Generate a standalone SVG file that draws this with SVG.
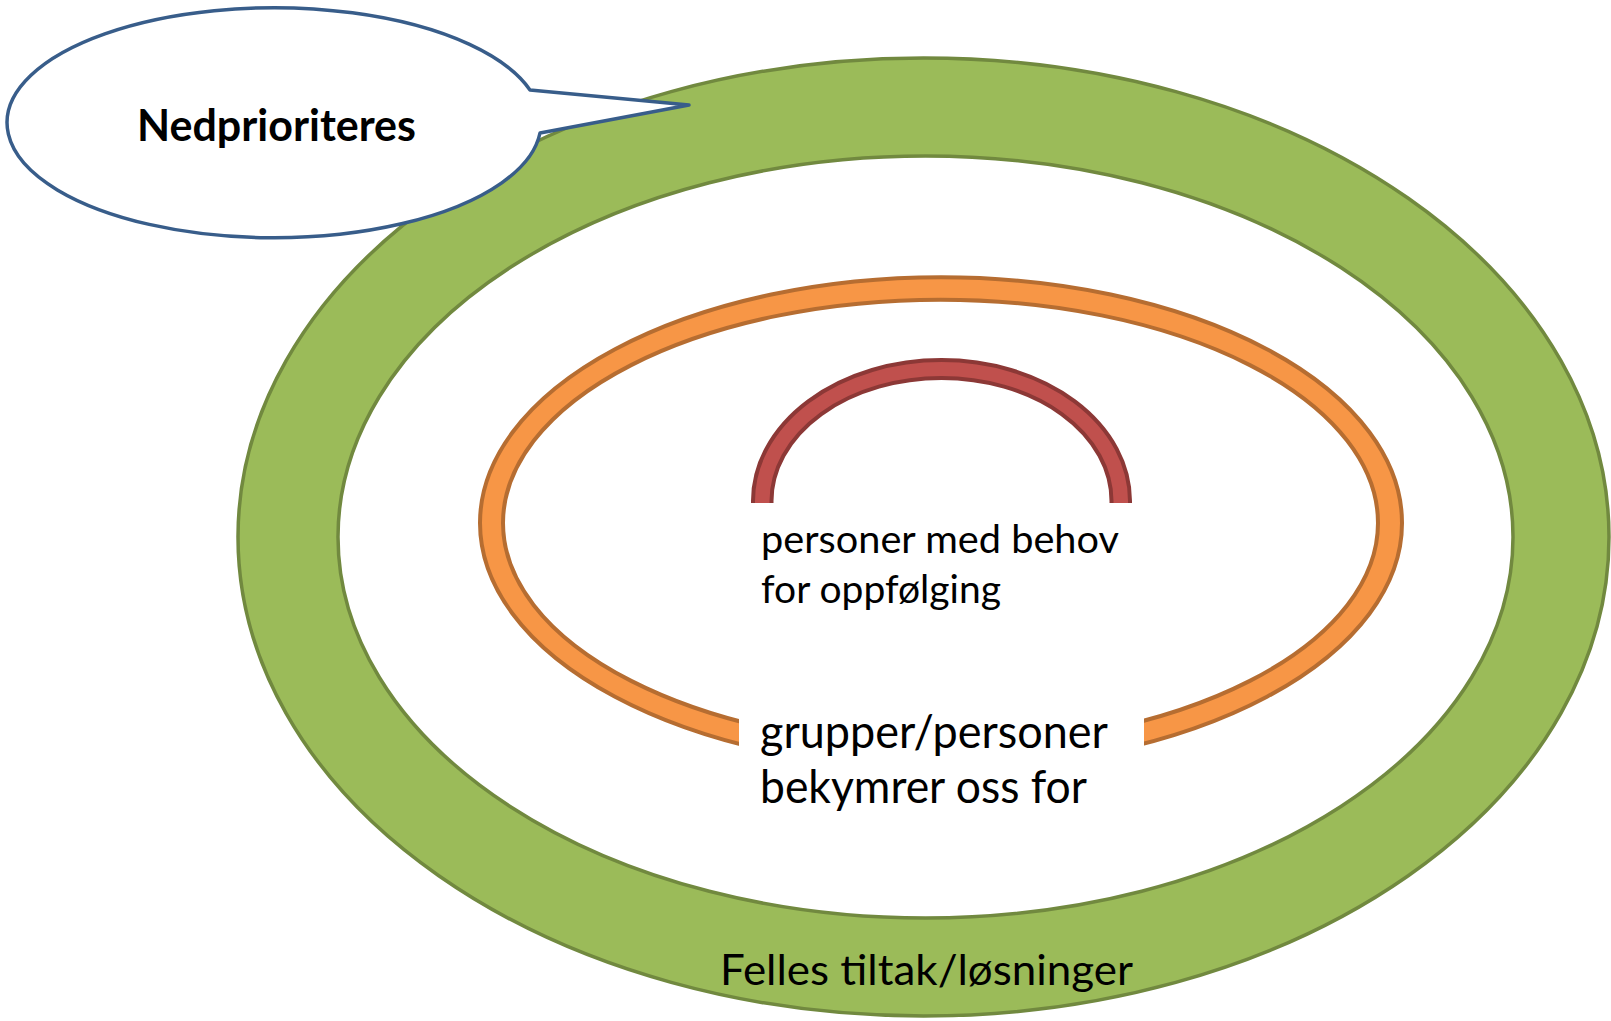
<svg xmlns="http://www.w3.org/2000/svg" width="1611" height="1021" viewBox="0 0 1611 1021">
  <style>
    .txt { font-family: Lato, "Liberation Sans", Arial, sans-serif; fill: #000000; }
    .green { fill: #9BBB59; stroke: #71893F; stroke-width: 3.5; }
    .greenIn { fill: #FFFFFF; stroke: #71893F; stroke-width: 3.5; }
    .orange { fill: #F79646; stroke: #B66D31; stroke-width: 4; }
    .orangeIn { fill: #FFFFFF; stroke: #B66D31; stroke-width: 4; }
    .redFill { fill: #C0504D; stroke: none; }
    .redLine { fill: none; stroke: #8C3836; stroke-width: 4; }
  </style>
  <defs>
    <clipPath id="orangeGap">
      <path clip-rule="evenodd" d="M0 0H1611V1021H0Z M739 600H1144V800H739Z"/>
    </clipPath>
  </defs>
  <rect x="0" y="0" width="1611" height="1021" fill="#FFFFFF"/>

  <g id="ring-felles">
    <ellipse class="green" cx="923.5" cy="537" rx="685.5" ry="479"/>
    <ellipse class="greenIn" cx="925.5" cy="537" rx="587.5" ry="381"/>
    <text class="txt" x="720" y="985" font-size="42" textLength="413" lengthAdjust="spacingAndGlyphs">Felles tiltak/løsninger</text>
  </g>

  <g id="ring-grupper">
    <g clip-path="url(#orangeGap)">
      <ellipse class="orange" cx="941" cy="523" rx="461" ry="245.7"/>
      <ellipse class="orangeIn" cx="940.5" cy="523" rx="437.5" ry="223.3"/>
    </g>
    <text class="txt" font-size="46">
      <tspan x="760" y="748" textLength="347" lengthAdjust="spacingAndGlyphs">grupper/personer</tspan>
      <tspan x="760" y="803" textLength="327" lengthAdjust="spacingAndGlyphs">bekymrer oss for</tspan>
    </text>
  </g>

  <g id="arc-personer">
    <path class="redFill" d="M753 503 V501 A188.5 141 0 0 1 1130 501 V503 H1111.5 V501 A170 123 0 0 0 771.5 501 V503 Z"/>
    <path class="redLine" d="M753 503 V501 A188.5 141 0 0 1 1130 501 V503"/>
    <path class="redLine" d="M771.5 503 V501 A170 123 0 0 1 1111.5 501 V503"/>
    <text class="txt" font-size="39">
      <tspan x="761" y="553" textLength="357" lengthAdjust="spacingAndGlyphs">personer med behov</tspan>
      <tspan x="761" y="603" textLength="240" lengthAdjust="spacingAndGlyphs">for oppfølging</tspan>
    </text>
  </g>

  <g id="callout-nedprioriteres">
    <path d="M530 90 L689 105 L540 133 A267 115 0 1 1 530 90 Z" fill="#FFFFFF" stroke="#385D8A" stroke-width="3.5" stroke-linejoin="round"/>
    <text class="txt" x="276.5" y="141" font-size="44" font-weight="bold" text-anchor="middle" textLength="279" lengthAdjust="spacingAndGlyphs">Nedprioriteres</text>
  </g>

  <g id="connectors"></g>
</svg>
